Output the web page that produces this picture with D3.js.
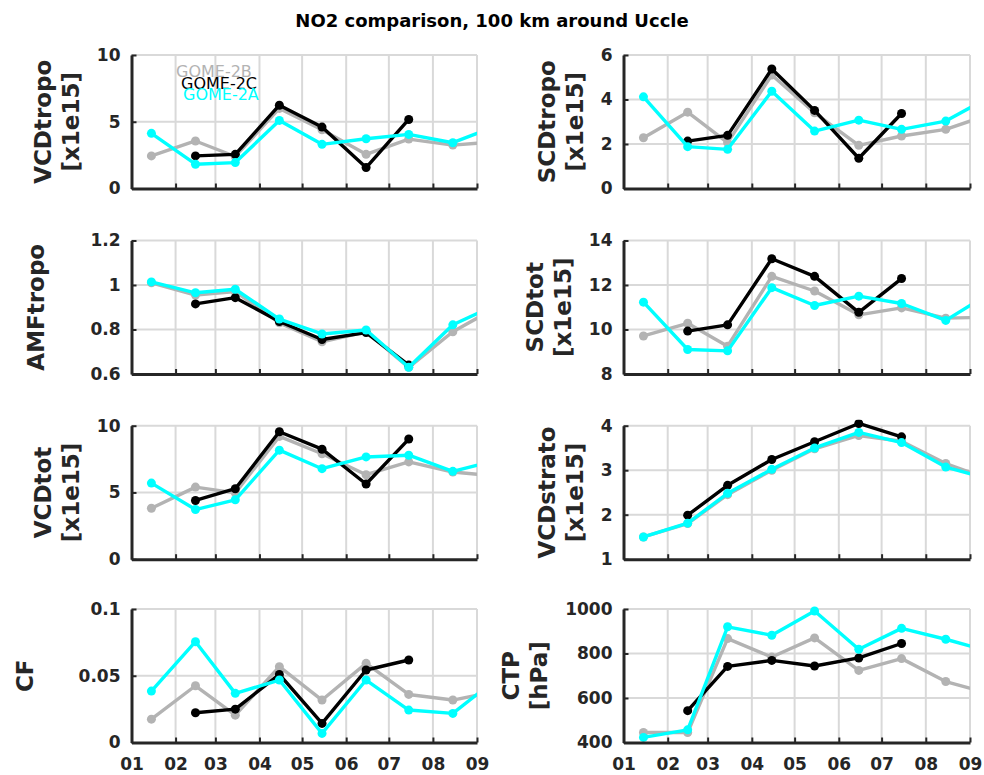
<!DOCTYPE html>
<html>
<head>
<meta charset="utf-8">
<script src="https://cdn.jsdelivr.net/npm/d3@7"></script>
<style>
  html, body { margin: 0; padding: 0; background: #fff; }
  svg { display: block; font-family: "DejaVu Sans", sans-serif; }
</style>
</head>
<body>
<svg id="fig" width="984" height="775"></svg>
<script>
// Monthly mean dates (mid-month) and month tick labels
const sampleDates = ["2019-01-15","2019-02-15","2019-03-15","2019-04-15","2019-05-15",
                     "2019-06-15","2019-07-15","2019-08-15","2019-09-15"];
const monthLabels = ["01","02","03","04","05","06","07","08","09"];
const seriesNames = ["GOME-2B","GOME-2C","GOME-2A"];
const seriesColors = ["#b3b3b3","#000000","#00ffff"];

// Tropospheric vertical column [x1e15]
const vcdTropoB = [2.44, 3.56, 2.4, 6.0, 4.4, 2.56, 3.7, 3.25, 3.5];
const vcdTropoC = [null, 2.44, 2.56, 6.24, 4.6, 1.57, 5.17, null, null];
const vcdTropoA = [4.13, 1.82, 1.94, 5.1, 3.31, 3.73, 4.05, 3.43, 4.7];
// Tropospheric slant column [x1e15]
const scdTropoB = [2.28, 3.43, 2.06, 5.1, 3.4, 1.94, 2.36, 2.66, 3.33];
const scdTropoC = [null, 2.13, 2.39, 5.37, 3.51, 1.36, 3.37, null, null];
const scdTropoA = [4.12, 1.88, 1.76, 4.37, 2.58, 3.07, 2.66, 3.03, 4.12];
// Tropospheric air mass factor
const amfTropoB = [1.01, 0.955, 0.97, 0.83, 0.745, 0.79, 0.63, 0.79, 0.9];
const amfTropoC = [null, 0.915, 0.943, 0.836, 0.755, 0.786, 0.64, null, null];
const amfTropoA = [1.014, 0.965, 0.981, 0.847, 0.78, 0.798, 0.63, 0.821, 0.912];
// Total slant column [x1e15]
const scdTotB = [9.71, 10.28, 9.25, 12.39, 11.73, 10.66, 10.97, 10.51, 10.55];
const scdTotC = [null, 9.93, 10.21, 13.18, 12.39, 10.77, 12.29, null, null];
const scdTotA = [11.23, 9.1, 9.04, 11.88, 11.08, 11.5, 11.17, 10.41, 11.63];
// Total vertical column [x1e15]
const vcdTotB = [3.82, 5.4, 4.97, 9.2, 7.9, 6.33, 7.29, 6.53, 6.22];
const vcdTotC = [null, 4.4, 5.28, 9.55, 8.24, 5.63, 9.0, null, null];
const vcdTotA = [5.7, 3.72, 4.45, 8.17, 6.78, 7.66, 7.79, 6.58, 7.42];
// Stratospheric vertical column [x1e15]
const vcdStratoB = [1.5, 1.8, 2.45, 3.0, 3.48, 3.78, 3.65, 3.15, 2.79];
const vcdStratoC = [null, 1.99, 2.66, 3.24, 3.64, 4.05, 3.75, null, null];
const vcdStratoA = [1.5, 1.81, 2.48, 3.02, 3.5, 3.85, 3.62, 3.07, 2.8];
// Cloud fraction
const cfB = [0.0175, 0.0425, 0.0205, 0.0568, 0.0318, 0.0593, 0.036, 0.0318, 0.0385];
const cfC = [null, 0.0223, 0.025, 0.051, 0.0143, 0.0543, 0.0618, null, null];
const cfA = [0.0385, 0.0755, 0.0368, 0.0468, 0.0068, 0.0468, 0.0243, 0.0218, 0.0477];
// Cloud top pressure [hPa]
const ctpB = [445, 445, 867, 784, 870, 724, 777, 674, 619];
const ctpC = [null, 543, 742, 769, 744, 780, 845, null, null];
const ctpA = [423, 457, 920, 882, 991, 819, 913, 864, 809];

// Y-axis labels, ranges and ticks per panel
const yLabels = [["VCDtropo","[x1e15]"],["SCDtropo","[x1e15]"],["AMFtropo",""],["SCDtot","[x1e15]"],
                 ["VCDtot","[x1e15]"],["VCDstrato","[x1e15]"],["CF",""],["CTP","[hPa]"]];
const yDomains = [[0,10],[0,6],[0.6,1.2],[8,14],[0,10],[1,4],[0,0.1],[400,1000]];
const yTicks = [[0,5,10],[0,2,4,6],[0.6,0.8,1,1.2],[8,10,12,14],[0,5,10],[1,2,3,4],[0,0.05,0.1],[400,600,800,1000]];
const panelSeries = [
  [vcdTropoB, vcdTropoC, vcdTropoA],
  [scdTropoB, scdTropoC, scdTropoA],
  [amfTropoB, amfTropoC, amfTropoA],
  [scdTotB, scdTotC, scdTotA],
  [vcdTotB, vcdTotC, vcdTotA],
  [vcdStratoB, vcdStratoC, vcdStratoA],
  [cfB, cfC, cfA],
  [ctpB, ctpC, ctpA]
];

// Layout
const colX = [[131.5, 477], [623.5, 970]];
const rowTop = [55, 240.5, 425.7, 609];
const panelH = 133.5;
const axisColor = "#262626";
const gridColor = "#d9d9d9";
const tickFont = 17;
const labelFont = 23;

const parseDate = d3.timeParse("%Y-%m-%d");
const dates = sampleDates.map(parseDate);
const monthStarts = d3.range(1, 10).map(m => new Date(2019, m - 1, 1));

const svg = d3.select("#fig");

svg.append("text")
  .attr("x", 492).attr("y", 27)
  .attr("text-anchor", "middle")
  .attr("font-size", 18).attr("font-weight", "bold")
  .attr("fill", "#000")
  .text("NO2 comparison, 100 km around Uccle");

panelSeries.forEach((series, i) => {
  const col = i % 2, row = Math.floor(i / 2);
  const [x0, x1] = colX[col];
  const yTop = rowTop[row], yBot = yTop + panelH;

  const x = d3.scaleTime().domain([monthStarts[0], monthStarts[8]]).range([x0, x1]);
  const y = d3.scaleLinear().domain(yDomains[i]).range([yBot, yTop]);

  const g = svg.append("g");

  // grid
  g.append("g").selectAll("line").data(monthStarts.slice(1)).join("line")
    .attr("x1", d => x(d)).attr("x2", d => x(d))
    .attr("y1", yTop).attr("y2", yBot)
    .attr("stroke", gridColor).attr("stroke-width", 2);
  g.append("g").selectAll("line").data(yTicks[i].slice(1)).join("line")
    .attr("x1", x0).attr("x2", x1)
    .attr("y1", d => y(d)).attr("y2", d => y(d))
    .attr("stroke", gridColor).attr("stroke-width", 2);

  // data lines and markers
  const clipId = "clip" + i;
  svg.append("clipPath").attr("id", clipId).append("rect")
    .attr("x", x0).attr("y", yTop - 6).attr("width", x1 - x0).attr("height", panelH + 6);
  const plot = g.append("g").attr("clip-path", `url(#${clipId})`);
  const line = d3.line()
    .defined(d => d[1] != null)
    .x(d => x(d[0])).y(d => y(d[1]));
  series.forEach((vals, s) => {
    const pts = vals.map((v, k) => [dates[k], v]);
    plot.append("path")
      .attr("d", line(pts))
      .attr("fill", "none")
      .attr("stroke", seriesColors[s])
      .attr("stroke-width", 3.4)
      .attr("stroke-linejoin", "round");
    plot.append("g").selectAll("circle").data(pts.filter(d => d[1] != null)).join("circle")
      .attr("cx", d => x(d[0])).attr("cy", d => y(d[1]))
      .attr("r", 4.5)
      .attr("fill", seriesColors[s]);
  });

  // axes
  const yAxis = d3.axisLeft(y).tickValues(yTicks[i]).tickFormat(d => String(d))
    .tickSizeInner(-5).tickSizeOuter(0).tickPadding(11);
  const ya = g.append("g").attr("transform", `translate(${x0},0)`).call(yAxis);
  const xAxis = d3.axisBottom(x).tickValues(monthStarts)
    .tickFormat((d, k) => row === 3 ? monthLabels[k] : "")
    .tickSizeInner(-5).tickSizeOuter(0).tickPadding(15);
  const xa = g.append("g").attr("transform", `translate(0,${yBot})`).call(xAxis);
  [ya, xa].forEach(a => {
    a.select(".domain").attr("stroke", axisColor).attr("stroke-width", 3);
    a.selectAll(".tick line").attr("stroke", axisColor).attr("stroke-width", 2);
    a.selectAll(".tick text").attr("fill", axisColor)
      .attr("font-size", tickFont).attr("font-weight", "bold")
      .attr("font-family", "DejaVu Sans");
  });

  // y label placed left of the widest tick label
  let tickLeft = x0;
  ya.selectAll(".tick text").each(function() {
    const b = this.getBBox();
    const ctm = this.getCTM();
    tickLeft = Math.min(tickLeft, b.x + ctm.e);
  });
  const cy = (yTop + yBot) / 2;
  const b2 = tickLeft - 18;
  const b1 = b2 - 28;
  yLabels[i].forEach((txt, li) => {
    if (!txt) return;
    svg.append("text")
      .attr("transform", `translate(${li === 0 ? b1 : b2},${cy}) rotate(-90)`)
      .attr("text-anchor", "middle")
      .attr("font-size", labelFont).attr("font-weight", "bold")
      .attr("fill", axisColor)
      .text(txt);
  });

  // legend (text only) in the first panel
  if (i === 0) {
    const lx = [176, 181, 183], ly = [77, 88.5, 100];
    seriesNames.forEach((n, s) => {
      svg.append("text")
        .attr("x", lx[s]).attr("y", ly[s])
        .attr("font-size", 16)
        .attr("fill", seriesColors[s])
        .text(n);
    });
  }
});
</script>
</body>
</html>
